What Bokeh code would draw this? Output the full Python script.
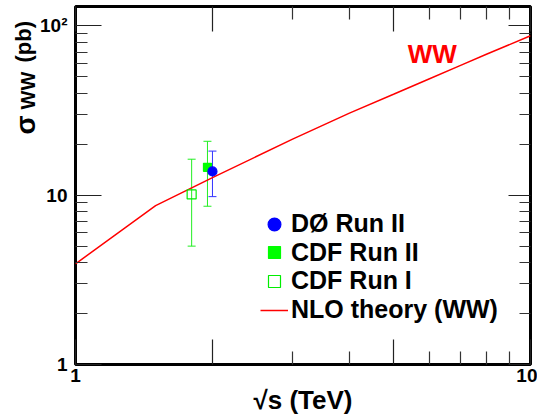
import math
from bokeh.plotting import figure
from bokeh.layouts import row
from bokeh.models import (FixedTicker, LogAxis, CustomJSTickFormatter, Label, Legend,
                          LegendItem, Whisker, ColumnDataSource, TeeHead, Range1d)
from bokeh.embed import file_html
from bokeh.resources import INLINE

# ---------------- data ----------------
experiments = ["DØ Run II", "CDF Run II", "CDF Run I"]
sqrt_s = [2.0, 1.95, 1.8]            # TeV
sigma = [13.8, 14.6, 10.1]           # pb
sigma_hi = [18.2, 20.8, 16.3]
sigma_lo = [9.8, 8.6, 5.0]

nlo_sqrt_s = [1.0, 1.5, 2.0, 3.0, 4.0, 5.0, 6.0, 7.0, 8.0, 10.0]
nlo_sigma = [3.93, 8.67, 12.7, 21.4, 30.5, 39.4, 48.7, 58.2, 67.9, 87.3]
nlo_label = "NLO theory (WW)"

x_major = [1, 2, 5, 10]
x_minor = [3, 4, 6, 7, 8, 9]
x_tick_labels = {"1": "1", "10": "10"}
y_major = [1, 10, 100]
y_minor = [m * d for d in (1, 10) for m in range(2, 10)]
y_tick_labels = {"1": "1", "10": "10", "100": "10²"}

FONT = "Liberation Sans"
W, H = 537, 419
LW = 37                      # width of the strip holding the y title
TOP, BOTTOM = 6, 55          # borders above / below the frame
FRAME_LEFT, FRAME_BOTTOM = 73, H - BOTTOM

# ---------------- y-title strip ----------------
t = figure(width=LW, height=H, x_range=Range1d(0, 1), y_range=Range1d(0, 1),
           output_backend="svg", toolbar_location=None,
           x_axis_location=None, y_axis_location=None,
           min_border=0, min_border_left=0, min_border_right=0,
           min_border_top=TOP, min_border_bottom=BOTTOM)
t.grid.visible = False
t.outline_line_color = None
t.border_fill_color = "white"
t.background_fill_color = "white"
# (text, size, baseline x, start y) in canvas pixels from top-left
for txt, size, bx, sy in [("σ", "28px", 25, 134), ("WW", "20px", 27, 109), ("(pb)", "22px", 23, 62)]:
    t.add_layout(Label(x=bx, y=FRAME_BOTTOM - sy, x_units="screen", y_units="screen", text=txt,
                       angle=math.pi / 2, text_align="left", text_baseline="alphabetic",
                       text_font=FONT, text_font_style="bold", text_font_size=size,
                       text_color="black"))

# ---------------- main plot ----------------
p = figure(width=W - LW, height=H, x_axis_type="log", y_axis_type="log",
           x_range=Range1d(1, 10), y_range=Range1d(1, 130),
           output_backend="svg", toolbar_location=None,
           min_border_left=FRAME_LEFT - LW, min_border_right=7,
           min_border_top=TOP, min_border_bottom=BOTTOM)
p.grid.visible = False
p.outline_line_color = "black"
p.outline_line_width = 3
p.background_fill_color = "white"
p.border_fill_color = "white"

fmt_code = """
const r = Math.round(tick);
if (Math.abs(tick - r) < 1e-6 && (String(r) in labels)) { return labels[String(r)]; }
return "";
"""

def style_axis(ax, major, minor, labels, major_len, minor_len, show):
    ax.ticker = FixedTicker(ticks=major, minor_ticks=minor)
    ax.major_tick_in = major_len
    ax.major_tick_out = 0
    ax.minor_tick_in = minor_len
    ax.minor_tick_out = 0
    ax.major_tick_line_color = "#222222"
    ax.major_tick_line_width = 1.2
    ax.minor_tick_line_color = "#333333"
    ax.minor_tick_line_width = 1.2
    ax.axis_line_color = None
    if show:
        ax.formatter = CustomJSTickFormatter(args=dict(labels=labels), code=fmt_code)
        ax.major_label_text_font = FONT
        ax.major_label_text_font_style = "bold"
        ax.major_label_text_font_size = "19px"
        ax.major_label_text_color = "black"
    else:
        ax.formatter = CustomJSTickFormatter(args=dict(labels={}), code=fmt_code)
        ax.major_label_text_font_size = "0px"
        ax.major_label_standoff = 0

xa = p.xaxis[0]
style_axis(xa, x_major, x_minor, x_tick_labels, 25, 13, True)
xa.major_label_standoff = 4
xa.axis_label = "√s (TeV)"
xa.axis_label_text_font = FONT
xa.axis_label_text_font_style = "bold"
xa.axis_label_text_font_size = "26px"
xa.axis_label_standoff = 0
xa.axis_label_text_color = "black"

ya = p.yaxis[0]
style_axis(ya, y_major, y_minor, y_tick_labels, 26, 12, True)
ya.major_label_standoff = 8

top = LogAxis()
style_axis(top, x_major, x_minor, {}, 25, 13, False)
p.add_layout(top, "above")
right = LogAxis()
style_axis(right, y_major, y_minor, {}, 22, 11, False)
p.add_layout(right, "right")

# NLO theory line
r_nlo = p.line(nlo_sqrt_s, nlo_sigma, line_color="#ff0000", line_width=1.5)

styles = [
    dict(marker="circle", size=9, fill_color="#0000ff", line_color="#0000ff", bar="#3333ff"),
    dict(marker="square", size=8, fill_color="#00ff00", line_color="#00ff00", bar="#22ee22"),
    dict(marker="square", size=9, fill_color=None, line_color="#00ee00", bar="#22ee22"),
]

order = [2, 1, 0]
for i in order:
    st = styles[i]
    src = ColumnDataSource(dict(x=[sqrt_s[i]], y=[sigma[i]], lo=[sigma_lo[i]], hi=[sigma_hi[i]]))
    w = Whisker(source=src, base="x", upper="hi", lower="lo", dimension="height",
                line_color=st["bar"], line_width=1,
                upper_head=TeeHead(size=8, line_color=st["bar"], line_width=1),
                lower_head=TeeHead(size=8, line_color=st["bar"], line_width=1))
    p.add_layout(w)
rend = {}
for i in order:
    st = styles[i]
    src = ColumnDataSource(dict(x=[sqrt_s[i]], y=[sigma[i]]))
    rend[i] = p.scatter("x", "y", source=src, marker=st["marker"], size=st["size"],
                        fill_color=st["fill_color"], line_color=st["line_color"], line_width=1.2)

# one single-entry legend per row, so rows sit where the reference has them
GLYPH_CX, TEXT_X = 272, 289
entries = [(experiments[0], [rend[0]], 32, 223.5),
           (experiments[1], [rend[1]], 30, 252.2),
           (experiments[2], [rend[2]], 30, 280.9),
           (nlo_label, [r_nlo], 28, 309.6)]
for label, rs, gw, row_y in entries:
    lx = GLYPH_CX - gw / 2 - FRAME_LEFT
    ly = FRAME_BOTTOM - row_y - 16
    lg = Legend(items=[LegendItem(label=label, renderers=rs)], location=(lx, ly),
                padding=0, margin=0, spacing=0,
                glyph_width=gw, glyph_height=32, label_height=32,
                label_standoff=int(round(TEXT_X - (GLYPH_CX + gw / 2))),
                label_text_font=FONT, label_text_font_style="bold",
                label_text_font_size="25px", label_text_color="black",
                background_fill_alpha=0, border_line_color=None)
    p.add_layout(lg)

p.add_layout(Label(x=6.08, y=68.4, text="WW", text_align="center", text_baseline="middle",
                   text_font=FONT, text_font_style="bold", text_font_size="26px",
                   text_color="#ff0000"))

layout = row(t, p, spacing=0)
open("out.html", "w").write(file_html(layout, INLINE))
